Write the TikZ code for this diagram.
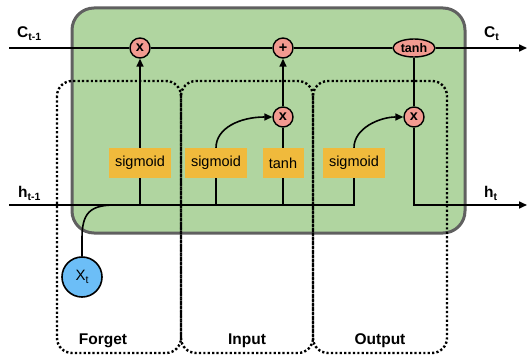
\documentclass[tikz,border=0pt]{standalone}
\usepackage{fontspec}
\setmainfont{Liberation Sans}
\usetikzlibrary{arrows.meta,shapes.geometric}
\definecolor{cellgreen}{HTML}{B0D5A0}
\definecolor{cellborder}{HTML}{606060}
\definecolor{gateorange}{HTML}{F0BA3C}
\definecolor{oppink}{HTML}{F29A90}
\definecolor{inblue}{HTML}{6CBEF7}
\newcommand{\sub}[1]{\raisebox{-3pt}{\fontsize{10.5}{12}\selectfont #1}}

\begin{document}
\begin{tikzpicture}[x=1pt,y=1pt,
  wire/.style={line width=1.6pt},
  flow/.style={wire,-{Triangle[length=8pt,width=7pt]}},
  gatebox/.style={fill=gateorange,minimum width=62pt,minimum height=30pt,inner sep=0pt,
    font=\fontsize{14.5}{16}\selectfont},
  op/.style={circle,draw,line width=1.4pt,fill=oppink,minimum size=20pt,inner sep=0pt,
    font=\bfseries\fontsize{14.5}{15}\selectfont},
  region/.style={line width=2.4pt,dash pattern=on 2.2pt off 2.2pt,rounded corners=15pt},
  lbl/.style={font=\bfseries\fontsize{15.5}{17}\selectfont,inner sep=0pt},
  gatename/.style={font=\bfseries\fontsize{15.5}{17}\selectfont,inner sep=0pt,anchor=base}]

\useasboundingbox (0,0) rectangle (527,-358);

% cell body
\draw[cellborder,fill=cellgreen,line width=3pt,rounded corners=22pt]
  (72,-8) rectangle (465,-233);

% gate regions
\draw[region] (57,-81) rectangle (181,-353);
\draw[region] (181,-81) rectangle (313,-353);
\draw[region] (313,-81) rectangle (447,-353);

% pointwise operations
\node[op] (fx) at (140,-48) {x};
\node[op] (plus) at (283,-48) {+};
\node[ellipse,draw,line width=1.4pt,fill=oppink,minimum width=42pt,minimum height=18pt,
  inner sep=0pt,font=\bfseries\fontsize{12.5}{14}\selectfont] (tanhc) at (414,-48) {tanh};
\node[op] (ix) at (283,-117) {x};
\node[op] (ox) at (414,-117) {x};

% layers
\node[gatebox] (fs) at (140,-163) {sigmoid};
\node[gatebox] (is) at (216,-163) {sigmoid};
\node[gatebox,minimum width=41pt] (it) at (283,-163) {tanh};
\node[gatebox] (os) at (354,-163) {sigmoid};

% input
\node[circle,draw,line width=1.6pt,fill=inblue,minimum size=40pt,inner sep=0pt,
  font=\fontsize{15}{17}\selectfont] (xt) at (82,-277) {X\sub{t}};

% end points of the state lines
\coordinate (cin) at (9,-48);
\coordinate (cout) at (527,-48);
\coordinate (hin) at (9,-205);
\coordinate (hout) at (527,-205);
\coordinate (hjoin) at (115,-205);

% cell state
\draw[wire] (cin) -- (fx) -- (plus) -- (tanhc);
\draw[flow] (tanhc) -- (cout);

% hidden state into the gates
\draw[wire] (hin) -- (hin -| os) -- (os);
\draw[wire] (fs) -- (fs |- hin);
\draw[wire] (is) -- (is |- hin);
\draw[wire] (it) -- (it |- hin);
\draw[wire] (xt.north) -- ++(0,18) .. controls (xt.north |- 0,-213) and (90,-205) .. (hjoin);

% gate outputs
\draw[flow] (fs) -- (fx);
\draw[wire] (it) -- (ix);
\draw[flow] (ix) -- (plus);
\draw[flow] (is.north) .. controls (216,-128) and (240,-117) .. (ix.west);
\draw[flow] (os.north) .. controls (354,-128) and (380,-117) .. (ox.west);
\draw[wire] (tanhc) -- (ox);
\draw[flow] (ox) -- (ox |- hout) -- (hout);

% labels
\node[lbl,anchor=base west] (lc0) at (17,-38) {C\sub{t-1}};
\node[lbl,anchor=base west] (lh0) at (18,-197) {h\sub{t-1}};
\node[lbl,anchor=base west] (lc1) at (484,-38) {C\sub{t}};
\node[lbl,anchor=base west] (lh1) at (484,-197) {h\sub{t}};
\node[gatename] (gf) at (103,-344) {Forget};
\node[gatename] (gi) at (247,-344) {Input};
\node[gatename] (go) at (380,-344) {Output};
\end{tikzpicture}
\end{document}
